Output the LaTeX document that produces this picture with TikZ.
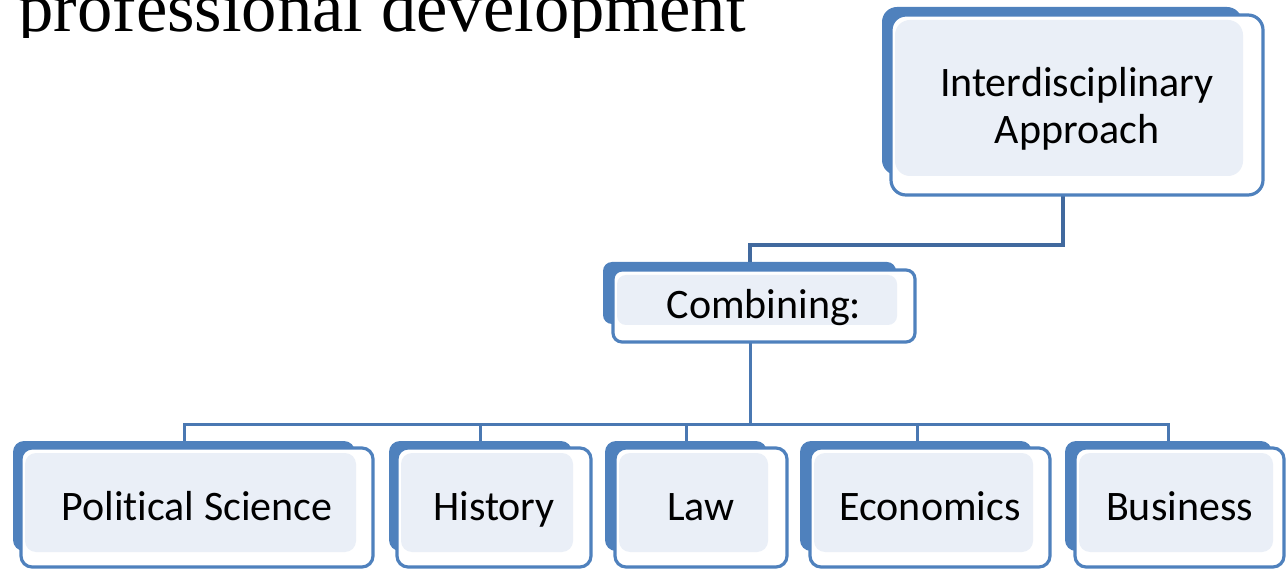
\documentclass[tikz,border=0pt]{standalone}
\usepackage{fontspec}
\setmainfont{Carlito}[Ligatures=NoCommon]
\newfontfamily\titlefont{Liberation Serif}
\usetikzlibrary{backgrounds,calc}
\definecolor{sablue}{HTML}{4F81BD}
\definecolor{salight}{HTML}{EAEFF7}
\definecolor{conntop}{HTML}{41699E}
\definecolor{connbot}{HTML}{4A78B2}
\tikzset{
  backbox/.style={fill=sablue},
  whitebox/.style={fill=white},
  lightbox/.style={fill=salight},
  frontbox/.style={draw=sablue, line width=3.2pt, inner sep=0pt, align=center,
     font=\fontsize{42}{47}\selectfont, text=black},
  oneline/.style={text height=33pt, text depth=8pt},
  twoline/.style={yshift=-3.5pt},
  conna/.style={draw=conntop, line width=4pt},
  connb/.style={draw=connbot, line width=3pt},
}
\begin{document}
\begin{tikzpicture}[x=1pt,y=-1pt]
\useasboundingbox (0,0) rectangle (1286,569);
\clip (0,0) rectangle (1286,569);
\begin{scope}
  \clip (0,0) rectangle (1286,38);
  \node[anchor=base east, inner sep=0pt, font=\titlefont\fontsize{70.6}{80}\selectfont] (title) at (746,32) {a professional development};
\end{scope}
\foreach \nm/\fl/\ft/\fr/\fb/\bl/\bt/\br/\bb/\rc/\st/\txt in {
  I/891/15/1263/195/882/7/1242/175/15/twoline/{Interdisciplinary\\Approach},
  C/613/270/915/342/603/262/896/324/9/oneline/{Combining:},
  P/21/448/373/567/13/441/355/551/11/oneline/{Political Science},
  H/397/448/591/567/389/441/572/551/11/oneline/{History},
  L/615/448/787/567/605/441/767/551/11/oneline/{Law},
  E/810/448/1050/567/800/441/1032/551/11/oneline/{Economics},
  B/1075/448/1284/567/1065/441/1272/551/11/oneline/{Business}}{
  \path[backbox, rounded corners=\rc pt] (\bl,\bt) rectangle (\br,\bb);
  \path[whitebox, rounded corners=\rc pt] (\fl,\ft) rectangle (\fr,\fb);
  \path[lightbox, rounded corners=\rc pt] ({\fl+4},{\ft+5}) rectangle ({\br+1},{\bb+1});
  \draw[draw=sablue, line width=3.2pt, rounded corners=\rc pt] (\fl,\ft) rectangle (\fr,\fb);
  \node[frontbox, draw=none, \st, minimum width={(\fr-\fl)*1pt}]
     (\nm) at ({(\fl+\fr)/2},{(\ft+\fb)/2}) {\txt};
}
\coordinate (ja) at (1063,245);
\coordinate (jb) at (750,245);
\coordinate (jc) at (750,425);
\begin{pgfonlayer}{background}
  \draw[conna] (1063,190) -- (ja) -- (jb) -- (750,265);
  \draw[connb] (750,338) -- (jc);
  \draw[connb] (184,445) |- (jc) -| (1168,445);
  \draw[connb] (480,445) -- (480,425);
  \draw[connb] (686,445) -- (686,425);
  \draw[connb] (917,445) -- (917,425);
\end{pgfonlayer}
\end{tikzpicture}
\end{document}
